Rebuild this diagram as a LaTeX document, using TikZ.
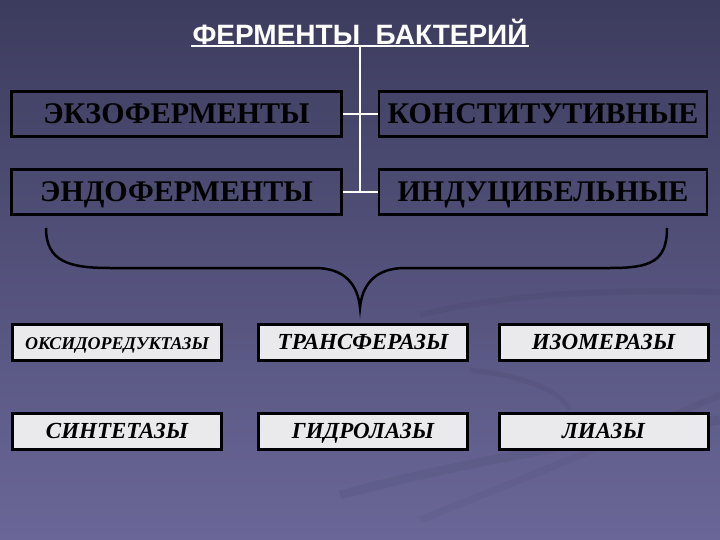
\documentclass[tikz,border=0pt]{standalone}
\usepackage{fontspec}
\setmainfont{Liberation Serif}
\newfontfamily\titlefont{Liberation Sans}
\definecolor{bgtop}{RGB}{60,60,94}
\definecolor{bgbot}{RGB}{106,103,152}
\definecolor{boxgray}{RGB}{234,234,236}
\begin{document}
\begin{tikzpicture}[x=1pt,y=-1pt,
        topsty/.style={rectangle,draw=black,line width=2.5pt,
            minimum width=330pt,minimum height=45pt,inner sep=0pt,
            text height=20pt,text depth=0pt,
            font=\fontsize{30}{30}\selectfont\bfseries},
        botsty/.style={rectangle,draw=black,line width=3pt,fill=boxgray,
            minimum width=209pt,minimum height=36pt,inner sep=0pt,
            text height=15.5pt,text depth=0pt,
            font=\fontsize{23}{23}\selectfont\bfseries\itshape},
        wsty/.style={draw=white,line width=2.5pt},
    ]
    \shade[top color=bgtop,bottom color=bgbot] (0,0) rectangle (720,540);
    \useasboundingbox (0,0) rectangle (720,540);
    % faint swooshes in the background
    \draw[black,opacity=0.04,line width=6pt] (420,315) .. controls (520,290) and (640,290) .. (720,292);
    \draw[black,opacity=0.04,line width=5pt] (470,370) .. controls (520,375) and (560,390) .. (570,410);
    \draw[black,opacity=0.05,line width=9pt] (340,495) .. controls (470,460) and (600,440) .. (720,420);
    \draw[black,opacity=0.04,line width=7pt] (420,520) .. controls (520,480) and (620,440) .. (720,395);

    \node (title) at (360,32) [inner sep=1.5pt,text=white,
        font=\titlefont\fontsize{28}{28}\selectfont\bfseries] {ФЕРМЕНТЫ\ \ БАКТЕРИЙ};
    \draw[wsty,line width=2pt] (title.south west) -- (title.south east);

    \node (ekzo) at (176.5,114) [topsty] {ЭКЗОФЕРМЕНТЫ};
    \node (konst) at (543,114) [topsty,minimum width=328pt] {КОНСТИТУТИВНЫЕ};
    \node (endo) at (176.5,192) [topsty] {ЭНДОФЕРМЕНТЫ};
    \node (indu) at (543,192) [topsty,minimum width=328pt] {ИНДУЦИБЕЛЬНЫЕ};

    \draw[wsty] (title.south) -- (title.south |- endo.east);
    \draw[wsty] (ekzo.east) -- (konst.west);
    \draw[wsty] (endo.east) -- (indu.west);

    % brace
    \coordinate (bl) at (46,228);
    \coordinate (br) at (667,228);
    \coordinate (btip) at (360,308);
    \draw[black,line width=2.5pt] (bl) .. controls (46,262) and (70,268) .. (110,268)
        -- (315,268) .. controls (345,268) and (358,285) .. (btip)
        .. controls (362,285) and (375,268) .. (405,268)
        -- (610,268) .. controls (650,268) and (667,262) .. (br);

    \foreach \n/\x/\y/\t in {oks/117/342/{\fontsize{18}{18}\selectfont ОКСИДОРЕДУКТАЗЫ},
            trans/363/342/ТРАНСФЕРАЗЫ, izo/603.5/342/ИЗОМЕРАЗЫ,
            sint/117/431/СИНТЕТАЗЫ, gidro/363/431/ГИДРОЛАЗЫ, lia/603.5/431/ЛИАЗЫ}{
        \node (\n) at (\x,\y) [botsty] {\t};
    }
\end{tikzpicture}
\end{document}
